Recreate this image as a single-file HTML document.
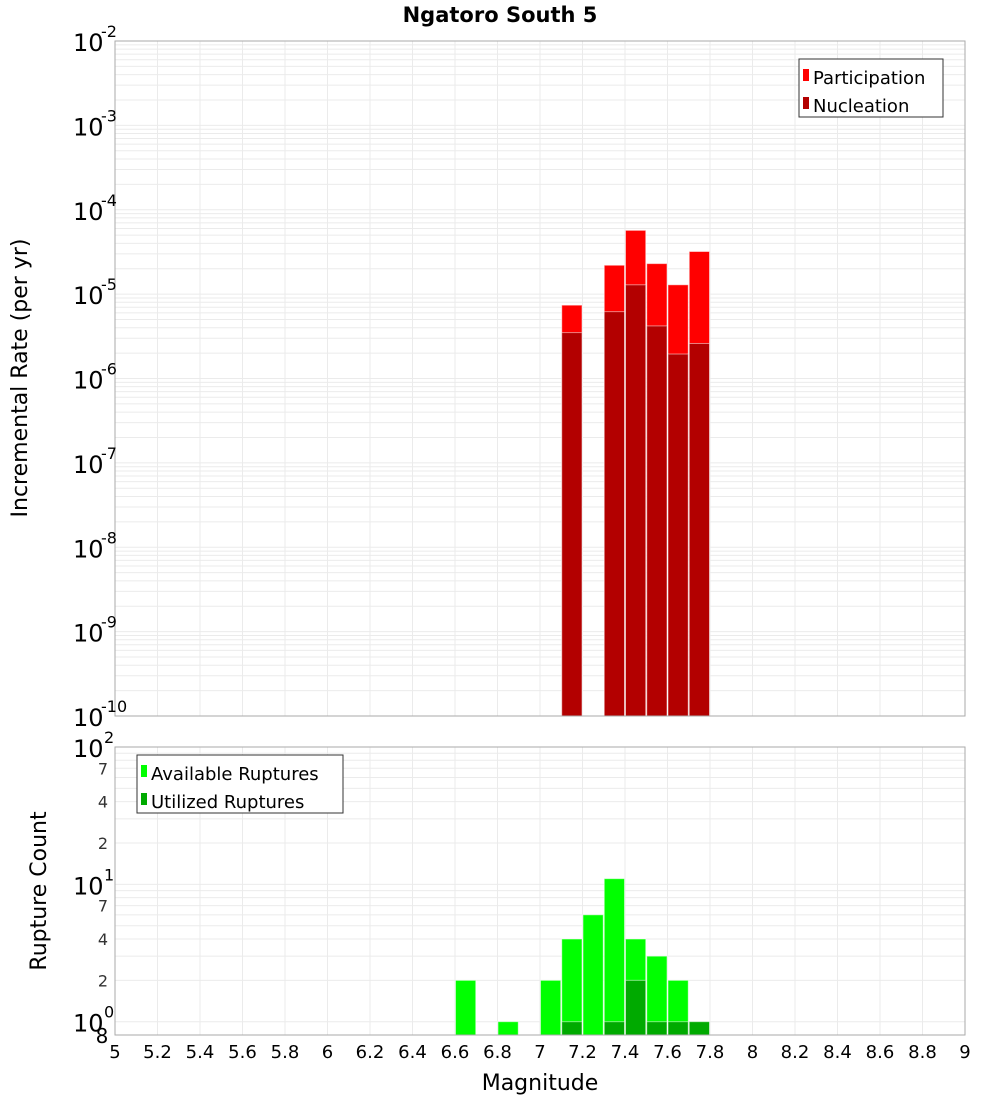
<!DOCTYPE html>
<html><head><meta charset="utf-8"><style>
html,body{margin:0;padding:0;background:#fff;}
svg{display:block;font-family:"DejaVu Sans","Liberation Sans",sans-serif;}
</style></head><body>
<svg id="c" width="1000" height="1100" xmlns="http://www.w3.org/2000/svg">
<text x="500" y="22" text-anchor="middle" font-size="21" font-weight="bold">Ngatoro South 5</text>
<text transform="translate(27,378) rotate(-90)" text-anchor="middle" font-size="22">Incremental Rate (per yr)</text>
<text transform="translate(46,891) rotate(-90)" text-anchor="middle" font-size="22">Rupture Count</text>
<text x="540" y="1090" text-anchor="middle" font-size="22">Magnitude</text>
<g id="g"></g>
</svg>
<script>
const rateMags=[7.15,7.35,7.45,7.55,7.65,7.75];
const participation=[7.4e-6,2.2e-5,5.7e-5,2.3e-5,1.29e-5,3.2e-5];
const nucleation=[3.5e-6,6.2e-6,1.29e-5,4.2e-6,1.95e-6,2.6e-6];
const countMags=[6.65,6.85,7.05,7.15,7.25,7.35,7.45,7.55,7.65,7.75];
const available=[2,1,2,4,6,11,4,3,2,1];
const utilMags=[7.15,7.35,7.45,7.55,7.65,7.75];
const utilized=[1,1,2,1,1,1];
const xTicks=[5,5.2,5.4,5.6,5.8,6,6.2,6.4,6.6,6.8,7,7.2,7.4,7.6,7.8,8,8.2,8.4,8.6,8.8,9];
const topExps=[-2,-3,-4,-5,-6,-7,-8,-9,-10];

const NS="http://www.w3.org/2000/svg",G=document.getElementById('g');
function mk(t,a,txt){const e=document.createElementNS(NS,t);for(const k in a)e.setAttribute(k,a[k]);if(txt!==undefined)e.textContent=txt;G.appendChild(e);return e;}
const X0=115,X1=965;
const x=m=>X0+(m-5)/4*(X1-X0);
const T0=41,T1=716;
const yT=v=>T0+(-2-Math.log10(v))/8*(T1-T0);
const B0=747,B1=1035,BMIN=0.8,BMAX=100;
const yB=v=>B0+(Math.log10(BMAX)-Math.log10(v))/(Math.log10(BMAX)-Math.log10(BMIN))*(B1-B0);

// grids
for(let e=-10;e<-2;e++)for(let k=1;k<10;k++){const y=yT(k*Math.pow(10,e));let l=mk('line',{x1:X0,x2:X1,y1:y,y2:y,stroke:'#ebebeb','stroke-width':1});}
[1,2,3,4,5,6,7,8,9,10,20,30,40,50,60,70,80,90].forEach(v=>{const y=yB(v);let l=mk('line',{x1:X0,x2:X1,y1:y,y2:y,stroke:'#ebebeb'});});
xTicks.forEach(t=>{[[T0,T1],[B0,B1]].forEach(r=>{let l=mk('line',{x1:x(t),x2:x(t),y1:r[0],y2:r[1],stroke:'#ebebeb'});});});

// bars
const bw=0.1;
function bar(m,v,yf,base,fill,name){const xa=x(m-bw/2)+0.5,xb=x(m+bw/2)-0.5,y=yf(v);let r=mk('rect',{x:xa,y:y,width:xb-xa,height:base-y,fill:fill,stroke:'rgba(255,255,255,0.5)','stroke-width':1});}
rateMags.forEach((m,i)=>bar(m,participation[i],yT,T1,'#ff0000','participation-bar'));
rateMags.forEach((m,i)=>bar(m,nucleation[i],yT,T1,'#b30000','nucleation-bar'));
countMags.forEach((m,i)=>bar(m,available[i],yB,B1,'#00ff00','available-bar'));
utilMags.forEach((m,i)=>bar(m,utilized[i],yB,B1,'#00aa00','utilized-bar'));

// frames
mk('rect',{x:X0,y:T0,width:X1-X0,height:T1-T0,fill:'none',stroke:'#aaa'});
mk('rect',{x:X0,y:B0,width:X1-X0,height:B1-B0,fill:'none',stroke:'#aaa'});

// top y labels
topExps.forEach(e=>{const y=yT(Math.pow(10,e));let t=mk('text',{x:73,y:y+10,'font-size':24},'10');let s=mk('text',{x:101,y:y-4,'font-size':16},String(e));});
// bottom y labels
[[100,'2'],[10,'1'],[1,'0']].forEach(p=>{const y=yB(p[0]);let t=mk('text',{x:73,y:y+10,'font-size':24},'10');let s=mk('text',{x:104,y:y-4,'font-size':16},p[1]);});
[70,40,20,7,4,2].forEach(v=>{let t=mk('text',{x:103,y:yB(v)+6,'font-size':16,fill:'#333','text-anchor':'middle'},String(v).charAt(0));});
let e8=mk('text',{x:102,y:yB(0.8)+8,'font-size':20,'text-anchor':'middle'},'8');
// x labels
xTicks.forEach(t=>{let l=mk('text',{x:x(t),y:1058,'font-size':18,'text-anchor':'middle'},String(t));});

// legends
function legend(x0,y0,w,items,name){const g=mk('rect',{x:x0,y:y0,width:w,height:58,fill:'#fff',stroke:'#333'});
items.forEach((it,i)=>{const yy=y0+18+i*28;let r=mk('rect',{x:x0+4,y:yy-8,width:6,height:12,fill:it[1]});let t=mk('text',{x:x0+14,y:yy+7,'font-size':18},it[0]);});}
legend(799,59,144,[['Participation','#ff0000'],['Nucleation','#b30000']],'top-legend');
legend(137,755,206,[['Available Ruptures','#00ff00'],['Utilized Ruptures','#00aa00']],'bottom-legend');
</script>
</body></html>
